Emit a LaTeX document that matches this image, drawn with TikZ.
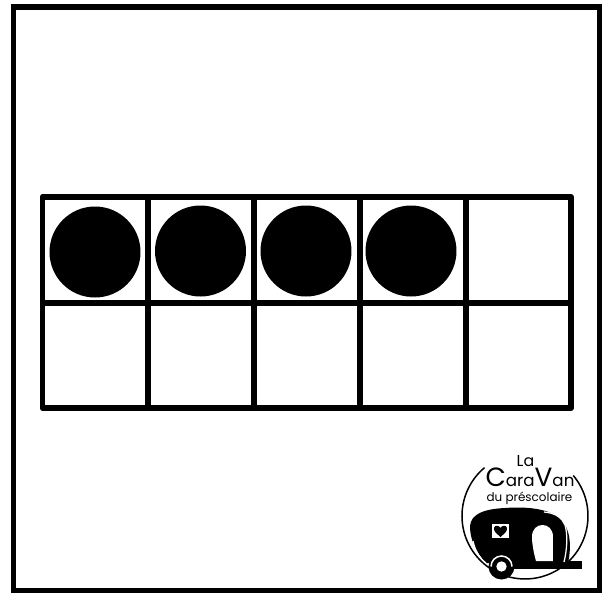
\documentclass[tikz,border=0pt]{standalone}
\usepackage{fontspec}
\setmainfont{Poppins}
\usepackage{xcolor}
\definecolor{tfblack}{HTML}{000000}
\definecolor{tfwhite}{HTML}{FFFFFF}
\tikzset{
  gridline/.style={draw=tfblack, line width=1.2mm, line join=round},
  token/.style={fill=tfblack},
  logotext/.style={color=tfblack, anchor=base, inner sep=0pt},
  cutout/.style={fill=tfwhite},
}
\begin{document}
\begin{tikzpicture}[x=0.02cm, y=-0.02cm]
    \useasboundingbox (0,0) rectangle (610,593);
    \fill[tfwhite] (0,0) rectangle (610,593);
    % page frame
    \draw[gridline, line join=miter] (13.5,7) rectangle (599.5,591);
    % ten frame
    \draw[gridline] (42.5,197) rectangle (571,408);
    \draw[gridline] (42.5,303) -- (571,303);
    \draw[gridline] (148,197) -- (148,408);
    \draw[gridline] (254,197) -- (254,408);
    \draw[gridline] (360,197) -- (360,408);
    \draw[gridline] (466,197) -- (466,408);
    \fill[token] (95,252) circle (45.5);
    \fill[token] (200.5,251) circle (45.5);
    \fill[token] (306,251) circle (45.5);
    \fill[token] (411,251) circle (45.5);
    % logo
    \draw[color=tfblack, line width=0.3mm] (484.5,467.7) arc[start angle=-130, end angle=-400, radius=63];
    \node[logotext, font=\fontsize{9}{10}\selectfont] (la) at (525.5,466) {La};
    \node[logotext, font=\fontsize{9.5}{10}\selectfont] (name) at (530,486.5) {{\fontsize{15}{15}\selectfont C}ara{\fontsize{15}{15}\selectfont V}an};
    \node[logotext, font=\fontsize{6.8}{8}\selectfont] (school) at (529.5,501.5) {du préscolaire};
    % caravan body
    \fill[tfblack] (486,563) .. controls (476,552) and (470,540) .. (470,526)
        .. controls (471,514) and (484,509) .. (505,508)
        .. controls (530,506) and (550,510) .. (560,518)
        .. controls (570,528) and (572,545) .. (568,563) -- cycle;
    \draw[tfblack, line width=1.6mm] (513,564.5) -- (582,564.5);
    \draw[tfwhite, line width=0.25mm] (544,512) .. controls (556,513) and (562,518) .. (565,525)
        .. controls (568,535) and (567,550) .. (564,562);
    \draw[tfwhite, line width=0.25mm] (473,541) .. controls (475,550) and (479,558) .. (486,563);
    % window with heart
    \fill[cutout] (492,524) rectangle (509,538);
    \fill[tfblack] (500.5,537) .. controls (496,533) and (493.5,531) .. (494,528)
        .. controls (494.5,525) and (499,525) .. (500.5,528)
        .. controls (502,525) and (506.5,525) .. (507,528)
        .. controls (507.5,531) and (505,533) .. (500.5,537) -- cycle;
    % door
    \fill[cutout] (536,561) .. controls (533,550) and (532,542) .. (532,537)
        .. controls (532,529) and (537,525) .. (542.5,525)
        .. controls (548,525) and (553,529) .. (553,537)
        -- (553,561) -- cycle;
    % wheel
    \fill[tfblack] (501.5,566.5) circle (13);
    \draw[tfwhite, line width=0.3mm] (491,566.5) arc[start angle=-180, end angle=0, radius=10.5];
    \fill[cutout] (501.5,566.5) circle (5.2);
\end{tikzpicture}
\end{document}
